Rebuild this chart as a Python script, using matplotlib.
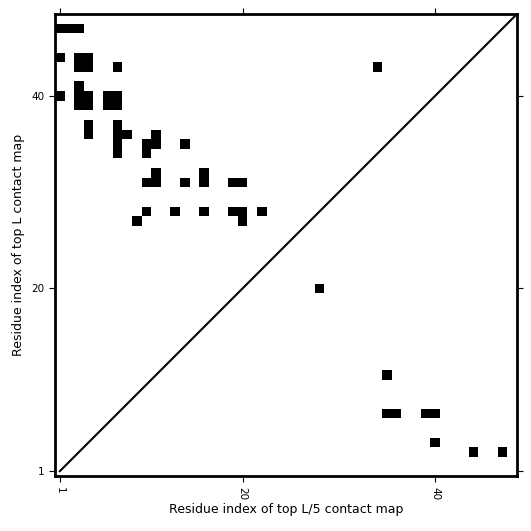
import numpy as np
import matplotlib
matplotlib.use("Agg")
import matplotlib.pyplot as plt

L = 48

# upper triangle: top L contacts (col, row), 0-based residue index
upper_cols = [0, 1, 2, 0, 2, 3, 2, 3, 6, 33, 0, 2, 2, 3, 2, 3, 5, 6, 5, 6,
              3, 3, 6, 6, 6, 6, 7, 10, 10, 9, 9, 13, 10, 10, 9, 13, 15, 15,
              18, 19, 9, 8, 12, 15, 18, 19, 19, 21]
upper_rows = [46, 46, 46, 43, 42, 42, 43, 43, 42, 42, 39, 40, 38, 38, 39, 39, 38, 38, 39, 39,
              35, 36, 33, 34, 35, 36, 35, 34, 35, 33, 34, 34, 30, 31, 30, 30, 30, 31,
              30, 30, 27, 26, 27, 27, 27, 27, 26, 27]

# lower triangle: top L/5 contacts
lower_cols = [27, 34, 34, 35, 38, 39, 39, 43, 46]
lower_rows = [19, 10, 6, 6, 6, 6, 3, 2, 2]

tick_pos = [0, 19, 39]
tick_labels = ['1', '20', '40']

cmap = np.zeros((L, L))
cmap[upper_rows, upper_cols] = 1
cmap[lower_rows, lower_cols] = 1

fig = plt.figure(figsize=(5.31, 5.31), dpi=100)
ax = fig.add_axes([0.1036, 0.1036, 0.87, 0.87])
ax.imshow(cmap, cmap='Greys', origin='lower', interpolation='nearest', vmin=0, vmax=1)
ax.plot([0, L - 0.5], [0, L - 0.5], color='black', linewidth=1.5)
ax.set_xlim(-0.5, L - 0.5)
ax.set_ylim(-0.5, L - 0.5)

ax.set_xticks(tick_pos)
ax.set_xticklabels(tick_labels, rotation=270)
ax.set_yticks(tick_pos)
ax.set_yticklabels(tick_labels)
ax.tick_params(top=True, right=True, direction='out', length=4.3, labelsize=7.5)
for s in ax.spines.values():
    s.set_linewidth(2)

ax.set_xlabel('Residue index of top L/5 contact map', fontsize=9, labelpad=2)
ax.set_ylabel('Residue index of top L contact map', fontsize=9, labelpad=4)

fig.savefig('out.png', dpi=100)
